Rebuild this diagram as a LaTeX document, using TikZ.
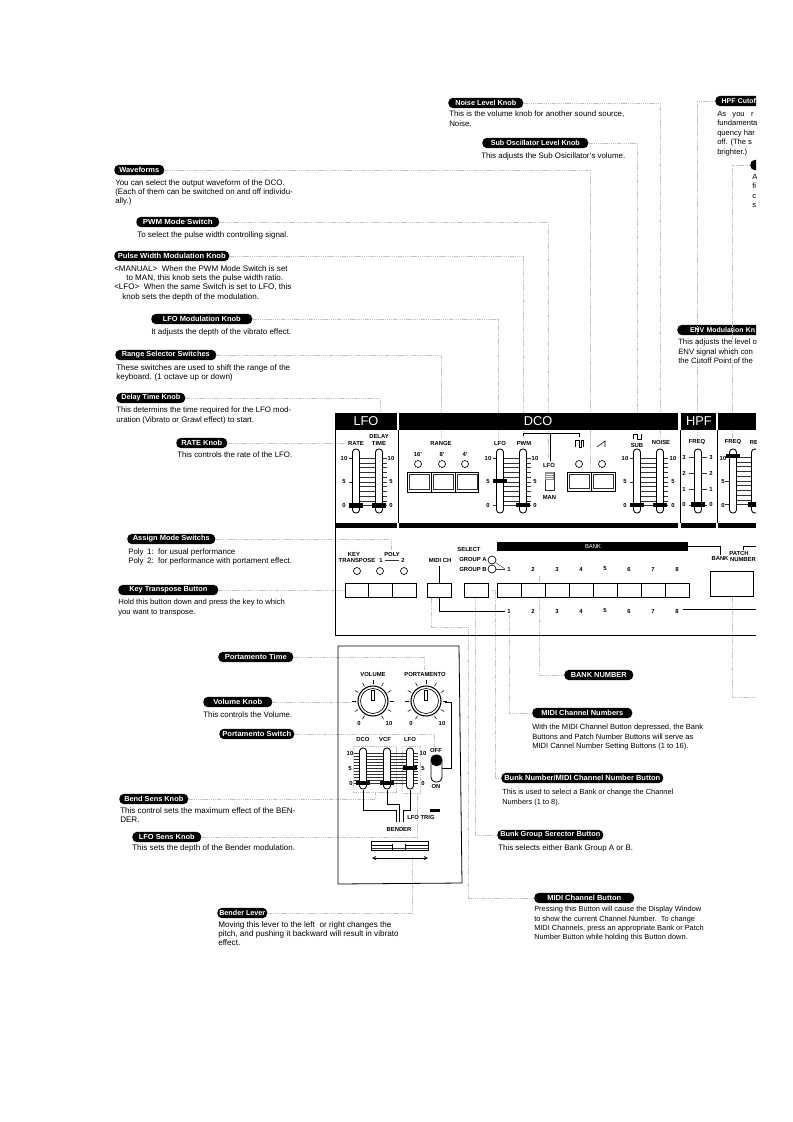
\documentclass[tikz,border=0pt]{standalone}
\usepackage{graphicx}
\usepackage{fontspec}
\setmainfont{Liberation Sans}
\newcount\labc
\tikzset{
  x=0.75pt,y=-0.75pt,>=stealth,
  pill/.style={fill=black,text=white,rounded corners=3.6pt,anchor=west,inner xsep=0pt,inner ysep=0pt,minimum height=7.8pt,font=\bfseries\fontsize{5.5}{6}\selectfont},
  body/.style={anchor=north west,inner sep=0pt,align=left},
  lbl/.style={inner sep=0pt,font=\bfseries\fontsize{4.4}{5}\selectfont},
  leader/.style={draw=black!24,line width=0.45pt,dash pattern=on 0.9pt off 0.5pt},
  wire/.style={draw=black,line width=0.6pt},
  thin line/.style={draw=black!80,line width=0.32pt},
  head/.style={fill=black},
  headtext/.style={text=white,inner sep=0pt,font=\fontsize{9.6}{10}\selectfont},
  fbody/.style={draw=black,fill=white,line width=0.65pt,rounded corners=2.4pt},
  led/.style={draw=black,fill=white,line width=0.5pt},
  btn/.style={draw=black,fill=white,line width=0.65pt},
}
% name, x, y, pill width, text width, text
\newcommand\pillat[6]{\node[pill,minimum width=#4*0.75pt] (#1) at (#2,#3) {\resizebox{\dimexpr #5pt*3/4\relax}{\height}{#6}};}
\newcommand\pillcut[6]{\node[pill,minimum width=#4*0.75pt,text width=#4*0.75pt-#5*0.75pt,align=left,font=\bfseries\fontsize{5.2}{6}\selectfont] (#1) at (#2,#3) {\hspace*{#5pt}#6};}
\newcommand\bt[5][6.0]{\node[body,font=\fontsize{#1}{7.05}\selectfont] (#2) at (#3,#4) {#5};}
\newcommand\lab[3]{\global\advance\labc by 1 \node[lbl] (lab\the\labc) at (#1,#2) {#3};}
\newcommand\faderbody[4]{% x top bottom handleY
  \draw[fbody] (#1-3.5,#2) rectangle (#1+3.5,#3);
  \fill (#1-7,#4-2.4) rectangle (#1+7,#4+2.4);}
\newcommand\scaleset[6]{% xleft xright y10 y0 xtickL xtickR
  \foreach \k in {0,...,10}{
    \pgfmathsetmacro\yy{#3+(#4-#3)*\k/10}
    \pgfmathtruncatemacro\mm{mod(\k,5)}
    \ifnum\mm=0
      \draw[thin line] (#5,\yy) -- (#6,\yy);
    \else
      \draw[thin line] (#1,\yy) -- (#2,\yy);
    \fi}}
\newcommand\knob[2]{%
  \foreach \a in {-240,-210,...,60}{\draw[line width=0.4pt] (#1,#2) ++(\a:17) -- ++(\a:4);}
  \draw[line width=0.8pt,fill=white] (#1,#2) circle [radius=15];
  \draw[line width=0.5pt] (#1,#2) circle [radius=12.5];
  \draw[line width=0.5pt,fill=white] (#1-1.7,#2-11) rectangle (#1+1.7,#2-1);}
\begin{document}
\begin{tikzpicture}
\useasboundingbox (0,0) rectangle (793,1122);
\begin{scope}
\clip (0,0) rectangle (756,1122);
% ---- pills
\pillat{waveforms}{114}{170}{50}{40}{Waveforms}
\pillat{pwmmode}{136}{222}{83}{70}{PWM Mode Switch}
\pillat{pwmknob}{114}{256}{115}{108}{Pulse Width Modulation Knob}
\pillat{lfomod}{151}{319}{101}{78}{LFO Modulation Knob}
\pillat{rangesel}{115}{355}{101}{88}{Range Selector Switches}
\pillat{delayknob}{116}{398}{69}{59}{Delay Time Knob}
\pillat{rateknob}{176}{443}{51}{41}{RATE Knob}
\pillat{assign}{127}{539}{88}{77}{Assign Mode Switchs}
\pillat{keytrans}{118}{590}{100}{78}{Key Transpose Button}
\pillat{portatime}{218}{657}{75}{62}{Portamento Time}
\pillat{volknob}{203}{702}{69}{49}{Volume Knob}
\pillat{portasw}{219}{734}{75}{69}{Portamento Switch}
\pillat{bendsens}{119}{799}{69}{59}{Bend Sens Knob}
\pillat{lfosens}{132}{837}{69}{56}{LFO Sens Knob}
\pillat{benderlever}{217}{913}{50}{46}{Bender Lever}
\pillat{noise}{448}{103}{75}{61}{Noise Level Knob}
\pillat{subosc}{482}{143}{106}{89}{Sub Oscillator Level Knob}
\pillcut{hpfcut}{715}{101}{60}{3.5}{HPF Cutof}
\pillcut{cutoff2}{750}{165}{30}{0}{}
\pillcut{envmod}{677}{330}{100}{7}{ENV Modulation Kn}
\pillat{banknum}{564}{675}{69}{56}{BANK NUMBER}
\pillat{midinums}{532}{713}{100}{82}{MIDI Channel Numbers}
\pillat{bunknum}{501}{778}{162}{156}{Bunk Number/MIDI Channel Number Button}
\pillat{bunkgrp}{497}{835}{106}{100}{Bunk Group Serector Button}
\pillat{midibtn}{534}{898}{100}{74}{MIDI Channel Button}
% ---- anchors of leaders
\coordinate (t-wave) at (590,471);
\coordinate (t-pwmmode) at (548,459);
\coordinate (t-pwm) at (523,438);
\coordinate (t-lfo) at (498,438);
\coordinate (t-range) at (441,438);
\coordinate (t-delay) at (380,431);
\coordinate (t-rate) at (347,443);
\coordinate (t-assign) at (391,550);
\coordinate (t-key) at (351,590);
\coordinate (t-noise) at (660,438);
\coordinate (t-sub) at (637,431);
\coordinate (t-hpf) at (697,438);
\coordinate (t-vcf) at (732,438);
\coordinate (t-porta) at (424,670);
\coordinate (t-vol) at (355,702);
\coordinate (t-portasw) at (434,747);
\coordinate (t-bend) at (375,793);
\coordinate (t-lfos) at (417,793);
\coordinate (t-bender) at (412,857);
\coordinate (t-banksrc) at (539,575);
\coordinate (t-midinum) at (509,615);
\coordinate (t-bunk) at (503,590);
\coordinate (t-grp) at (475,590);
\coordinate (t-midisrc) at (431,597);
\coordinate (t-patch) at (732,590);
\coordinate (t-patchend) at (756,697);
% ---- leaders
\draw[leader] (waveforms.east) -| (t-wave);
\draw[leader] (pwmmode.east) -| (t-pwmmode);
\draw[leader] (pwmknob.east) -| (t-pwm);
\draw[leader] (lfomod.east) -| (t-lfo);
\draw[leader] (rangesel.east) -| (t-range);
\draw[leader] (delayknob.east) -| (t-delay);
\draw[leader] (rateknob.east) -- (t-rate);
\draw[leader] (assign.east) -| (t-assign);
\draw[leader] (keytrans.east) -- (t-key);
\draw[leader] (noise.east) -| (t-noise);
\draw[leader] (subosc.east) -| (t-sub);
\draw[leader] (hpfcut.west) -| (t-hpf);
\draw[leader] (cutoff2.west) -| (t-vcf);
\draw[leader] (banknum.west) -| (t-banksrc);
\draw[leader] (midinums.west) -| (t-midinum);
\draw[leader] (bunknum.west) -- ++(-6,0) |- (t-bunk) -- ++(-11,0);
\draw[leader] (bunkgrp.west) -| (t-grp);
\draw[leader] (midibtn.west) -- ++(-66,0) |- (468,627) -- ++(-37,0) -- (t-midisrc);
\draw[leader] (t-patch) |- (t-patchend);
\draw[leader] (portatime.east) -| (t-porta);
\draw[leader] (volknob.east) -- (t-vol);
\draw[leader] (portasw.east) -| (t-portasw);
\draw[leader] (bendsens.east) -| (t-bend);
\draw[leader] (lfosens.east) -| (t-lfos);
\draw[leader] (benderlever.east) -| (t-bender);
\draw[leader] (353,792) rectangle (396,746);
\draw[leader] (402,746) rectangle (420,793);
% ---- description texts
\bt[5.95]{d-wave}{115}{179}{You can select the output waveform of the DCO.\\(Each of them can be switched on and off individu-\\ally.)}
\bt{d-pwmmode}{137}{231}{To select the pulse width controlling signal.}
\bt[6.05]{d-pwm1}{114}{265}{<MANUAL>\ \ When the PWM Mode Switch is set\\\hspace*{9pt}to MAN, this knob sets the pulse width ratio.\\<LFO>\ \ When the same Switch is set to LFO, this\\\hspace*{6pt}knob sets the depth of the modulation.}
\bt{d-lfomod}{151}{328}{It adjusts the depth of the vibrato effect.}
\bt[6.05]{d-range}{116}{364}{These switches are used to shift the range of the\\keyboard. (1 octave up or down)}
\bt[5.9]{d-delay}{116}{407}{This determins the time required for the LFO mod-\\uration (Vibrato or Grawl effect) to start.}
\bt[5.9]{d-rate}{177}{452}{This controls the rate of the LFO.}
\bt[5.95]{d-assign}{128}{548}{Poly\ \,1:\ \ for usual performance\\Poly\ \,2:\ \ for performance with portament effect.}
\bt[5.75]{d-key}{118}{599}{Hold this button down and press the key to which\\you want to transpose.}
\bt[5.95]{d-vol}{203}{711}{This controls the Volume.}
\bt[6.05]{d-bend}{120}{807}{This control sets the maximum effect of the BEN-\\DER.}
\bt[6.05]{d-lfos}{132}{844}{This sets the depth of the Bender modulation.}
\bt[6.1]{d-bender}{218}{921}{Moving this lever to the left\ \ or right changes the\\pitch, and pushing it backward will result in vibrato\\effect.}
\bt[5.92]{d-noise}{449}{111}{This is the volume knob for another sound source,\\Noise.}
\bt[5.92]{d-sub}{481}{153}{This adjusts the Sub Osicillator's volume.}
\bt[5.7]{d-hpf}{717}{111}{As\ \ \ you\ \ \ r\\fundamenta\\quency har\\off. (The s\\brighter.)}
\bt[5.7]{d-cut2}{752}{174}{A\\fi\\c\\s}
\bt[5.8]{d-env}{678}{339}{This adjusts the level o\\ENV signal which con\\the Cutoff Point of the}
\bt[5.65]{d-banknum}{532}{724}{With the MIDI Channel Button depressed, the Bank\\Buttons and Patch Number Buttons will serve as\\MIDI Cannel Number Setting Buttons (1 to 16).}
\bt[5.55]{d-bunk}{502}{789}{This is used to select a Bank or change the Channel\\Numbers (1 to 8).}
\bt[5.95]{d-grp}{498}{844}{This selects either Bank Group A or B.}
\bt[5.55]{d-midi}{534}{906}{Pressing this Button will cause the Display Window\\to show the current Channel Number.\ \ To change\\MIDI Channels, press an appropriate Bank or Patch\\Number Button while holding this Button down.}
% ---- panel headers
\fill[head] (335,413) rectangle (397,430);
\fill[head] (399,413) rectangle (678,430);
\fill[head] (681,413) rectangle (716,430);
\fill[head] (718,413) rectangle (756,430);
\node[headtext] (h-lfo) at (366,421.5) {LFO};
\node[headtext] (h-dco) at (538,421.5) {DCO};
\node[headtext] (h-hpf) at (699,421.5) {HPF};
\fill[head] (335,523) rectangle (397,528);
\fill[head] (399,523) rectangle (678,528);
\fill[head] (681,523) rectangle (716,528);
\fill[head] (718,523) rectangle (756,528);
\draw[wire] (335,430) -- (335,635) -- (756,635);
\draw[wire] (398,430) -- (398,523);
\draw[wire] (680,430) -- (680,523);
\draw[wire] (717,430) -- (717,523);
% ---- upper sliders
\scaleset{360}{387}{458}{505.5}{349}{387}
\scaleset{504}{531}{458}{505.5}{493}{531}
\scaleset{641}{668}{458}{505.5}{630}{668}
\draw[thin line] (689,457) -- (694,457) (689,473) -- (694,473) (689,489) -- (694,489) (689,505) -- (694,505);
\draw[thin line] (702,457) -- (707,457) (702,473) -- (707,473) (702,489) -- (707,489) (702,505) -- (707,505);
\scaleset{737}{752}{457}{504.5}{725}{752}
\faderbody{356}{449}{513}{505.5}
\faderbody{379}{449}{513}{505.5}
\faderbody{500}{449}{513}{481}
\faderbody{523}{449}{513}{505}
\faderbody{637}{449}{513}{505}
\faderbody{660}{449}{513}{505}
\faderbody{698}{449}{513}{504.5}
\faderbody{733}{449}{513}{456}
\faderbody{755}{449}{513}{504.5}
\lab{356}{443}{RATE}
\lab{379}{436.5}{DELAY}
\lab{379}{443}{TIME}
\lab{441}{443}{RANGE}
\lab{500}{443}{LFO}
\lab{524}{443}{PWM}
\lab{637}{445}{SUB}
\lab{661}{442}{NOISE}
\lab{697}{442}{FREQ}
\lab{733}{442}{FREQ}
\lab{754}{442}{RE}
\foreach \yy/\tt in {458/10,482/5,505.5/0}{
  \lab{344}{\yy}{\tt}
  \lab{391}{\yy}{\tt}
  \lab{488}{\yy}{\tt}
  \lab{535}{\yy}{\tt}
  \lab{625}{\yy}{\tt}
  \lab{673}{\yy}{\tt}
  \lab{723}{\yy}{\tt}
}
\foreach \yy/\tt in {457/3,473/2,489/1,504.5/0}{
  \lab{684}{\yy}{\tt}
  \lab{711}{\yy}{\tt}
}
% range section
\lab{418}{454.5}{16'}
\lab{442}{454.5}{8'}
\lab{465}{454.5}{4'}
\foreach \xx in {418,442,465}{\draw[led] (\xx,464) circle [radius=3.5];}
\draw[btn] (407,472) rectangle (478,492);
\draw[wire] (431,472) -- (431,492) (455,472) -- (455,492);
\foreach \xx in {409,433,457}{\draw[thin line] (\xx,474.5) rectangle (\xx+20,489.5);}
% pwm bracket and switch
\draw[wire] (523,436) -- (523,433) -- (579,433) -- (579,437);
\draw[wire] (550,433) -- (550,461);
\lab{549}{465}{LFO}
\lab{549.5}{497}{MAN}
\draw[thin line,fill=white] (545,472) rectangle (554,490);
\fill[black!45] (545,472) rectangle (554,480);
\draw[white,line width=0.3pt] (546,474) -- (553,474) (546,476) -- (553,476) (546,478) -- (553,478);
% waveform symbols
\draw[line width=0.4pt] (575,447) -- (575,440) -- (579,440) -- (579,447) -- (581,447) -- (581,440) -- (583,440) -- (583,447);
\draw[line width=0.4pt] (597,447) -- (605,441) -- (605,447);
\draw[line width=0.4pt] (633,439) -- (633,434) -- (637,434) -- (637,439) -- (641,439) -- (641,434);
\foreach \xx in {579,602}{\draw[led] (\xx,464) circle [radius=3.5];}
\draw[btn] (567,472) rectangle (615,491);
\draw[wire] (591,472) -- (591,491);
\foreach \xx in {569,593}{\draw[thin line] (\xx,474.5) rectangle (\xx+20,488.5);}
% ---- lower panel
\lab{354}{554}{KEY}
\lab{357}{560}{TRANSPOSE}
\lab{392}{554}{POLY}
\lab{381}{560}{1}
\lab{403}{560}{2}
\draw[thin line] (385,560) -- (399,560);
\foreach \xx in {357,380,404}{\draw[led] (\xx,571) circle [radius=3.5];}
\draw[btn] (345,583) rectangle (416,597);
\draw[wire] (368,583) -- (368,597) (392,583) -- (392,597);
\lab{440}{560}{MIDI CH}
\node[btn,minimum width=18pt,minimum height=10.5pt,inner sep=0pt] (midich) at (439,590) {};
\coordinate (midilab) at (439,566);
\coordinate (numrow) at (505,611);
\draw[wire] (midilab) -- (midich.north);
\draw[wire] (midich.south) |- (numrow);
\lab{469}{549}{SELECT}
\node[lbl,anchor=east] (grpa) at (487,559.5) {GROUP A};
\node[lbl,anchor=east] (grpb) at (487,569) {GROUP B};
\node[led,circle,inner sep=0pt,minimum size=6pt] (leda) at (492,560) {};
\node[led,circle,inner sep=0pt,minimum size=6pt] (ledb) at (492,569) {};
\coordinate (grpjoin) at (505,569);
\draw[thin line] (leda) -- (grpjoin);
\draw[thin line] (ledb) -- (grpjoin);
\node[btn,minimum width=18pt,minimum height=10.5pt,inner sep=0pt] (selbtn) at (476,590) {};
\draw[btn] (497,583) rectangle (689,597);
\foreach \i in {1,...,7}{\draw[wire] (497+\i*24,583) -- (497+\i*24,597);}
\foreach \i in {1,...,8}{
  \lab{485+\i*24}{569}{\i}
  \lab{485+\i*24}{611}{\i}
}
\draw[wire] (683,609.5) -- (756,609.5);
\fill[head] (497,542) rectangle (688,551);
\node[text=white,inner sep=0pt,font=\fontsize{4.4}{5}\selectfont] (banktext) at (593,546.5) {BANK};
\draw[wire] (688,546) -- (720,546) -- (720,555);
\draw[wire] (743,550) -- (743,546) -- (756,546);
\lab{720}{558.5}{BANK}
\lab{739}{553}{PATCH}
\lab{743}{559}{NUMBER}
\draw[btn] (710,571) rectangle (753,596);
% ---- portamento / bender box
\draw[wire] (338,646) -- (459,646) -- (462,883) -- (338,884) -- cycle;
\lab{373}{674}{VOLUME}
\lab{425}{674}{PORTAMENTO}
\knob{373}{701}
\knob{426}{701}
\lab{359}{723}{0}
\lab{389}{723}{10}
\lab{411}{723}{0}
\lab{442}{723}{10}
\draw[wire] (445,702) -- (451,702) -- (451,768) -- (442,768);
\draw[fbody,rounded corners=3.5pt] (431,755) rectangle (442,782);
\fill[rounded corners=3.5pt] (431,755) rectangle (442,766);
\lab{436}{750}{OFF}
\lab{436}{786}{ON}
\lab{363}{739.5}{DCO}
\lab{385}{739.5}{VCF}
\lab{410}{739.5}{LFO}
\scaleset{354}{418}{753}{783}{354}{418}
\draw[wire] (363,790) -- (363,810) -- (396,810) -- (396,822);
\draw[wire] (387,790) -- (387,804) -- (399,804) -- (399,822);
\draw[wire] (410,790) -- (410,810) -- (403,810) -- (403,822);
\faderbody{363}{748}{789}{783}
\faderbody{387}{748}{789}{783}
\faderbody{410}{748}{789}{768}
\lab{350}{753}{10}
\lab{350}{768}{5}
\lab{351}{783}{0}
\lab{423}{753}{10}
\lab{423}{768}{5}
\lab{423}{783}{0}
\node[lbl,anchor=west] (lfotrig) at (407,817) {LFO TRIG};
\fill (430,809) rectangle (440,812);
\lab{399}{829.5}{BENDER}
\draw[btn] (371,841) rectangle (428,850);
\draw[wire] (371,845) -- (392,845) (405,845) -- (428,845);
\draw[thin line] (371,848) -- (428,848);
\draw[wire] (392,843.5) -- (392,850) (405,843.5) -- (405,850);
\draw[<->,line width=0.45pt,>={stealth}] (372,858) -- (428,858);
\end{scope}
\end{tikzpicture}
\end{document}
